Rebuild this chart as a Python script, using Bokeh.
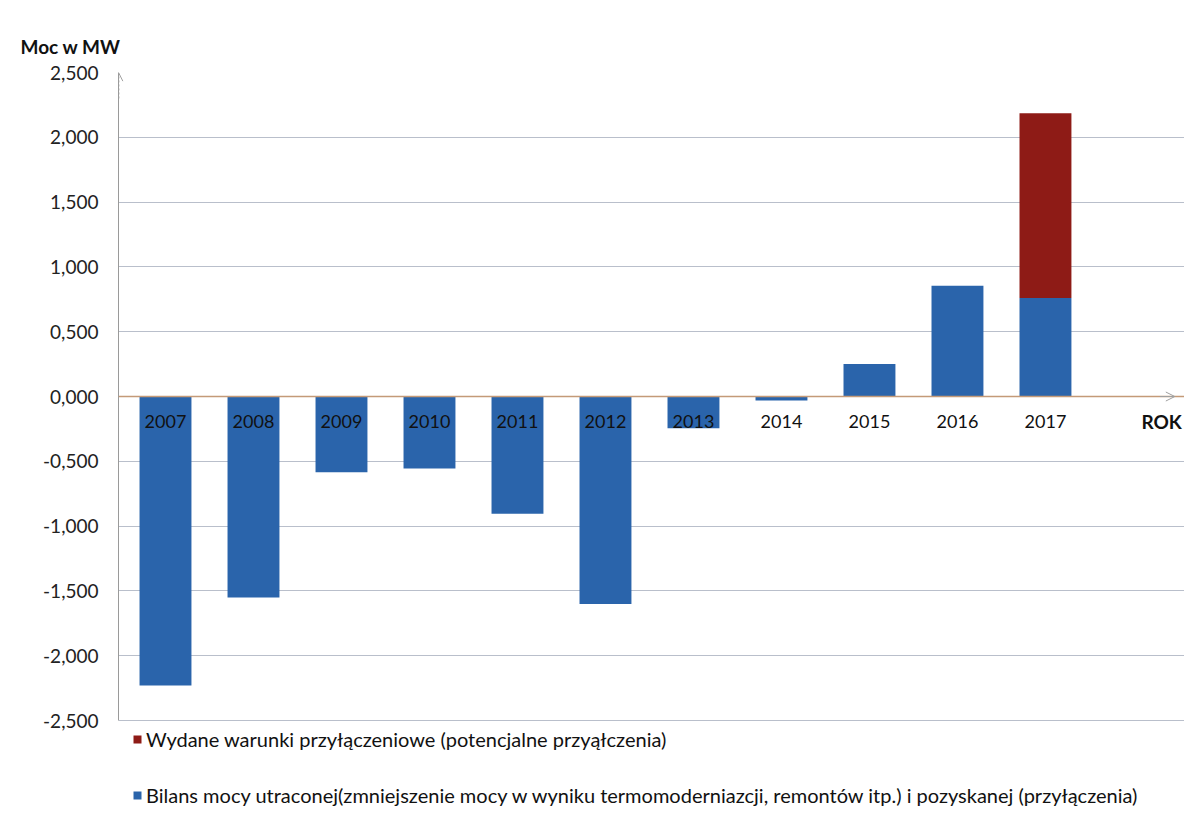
from bokeh.plotting import figure
from bokeh.models import (ColumnDataSource, FixedTicker, Legend, LegendItem,
                          Arrow, OpenHead, Span)
from bokeh.core.properties import value
from bokeh.embed import file_html
from bokeh.resources import INLINE

years = [2007, 2008, 2009, 2010, 2011, 2012, 2013, 2014, 2015, 2016, 2017]
year_labels = ["2007", "2008", "2009", "2010", "2011", "2012", "2013", "2014", "2015", "2016", "2017"]
bilans = [-2230, -1550, -585, -555, -905, -1600, -245, -30, 250, 855, 760]
warunki = [0, 0, 0, 0, 0, 0, 0, 0, 0, 0, 1425]
y_ticks = [-2500, -2000, -1500, -1000, -500, 0, 500, 1000, 1500, 2000, 2500]
y_tick_labels = ["-2,500", "-2,000", "-1,500", "-1,000", "-0,500", "0,000",
                 "0,500", "1,000", "1,500", "2,000", "2,500"]
series_names = ["Wydane warunki przyłączeniowe (potencjalne przyąłczenia)",
                "Bilans mocy utraconej(zmniejszenie mocy w wyniku termomoderniazcji, remontów itp.) i pozyskanej (przyłączenia)"]
y_title = "Moc w MW"
x_title = ["ROK"]

BLUE = "#2a64ab"
RED = "#8e1b16"
FONT = "Lato"
LABEL_Y = -195    # vertical placement of the year labels, in data units
Y_LOW = -3248     # frame extends below -2,500 to hold the legend
X_LOW, X_HIGH = 2006.466, 2018.58

top_red = [b + w if w > 0 else 0 for b, w in zip(bilans, warunki)]
bottom_red = [b if w > 0 else 0 for b, w in zip(bilans, warunki)]
src = ColumnDataSource(dict(x=years, bilans=bilans, top_red=top_red,
                            bottom_red=bottom_red, lab=year_labels,
                            lab_y=[LABEL_Y] * len(years)))

p = figure(width=1184, height=817, output_backend="svg", toolbar_location=None,
           x_range=(X_LOW, X_HIGH), y_range=(Y_LOW, 2500),
           x_axis_location=None,
           min_border_left=118, min_border_right=0, min_border_top=72,
           min_border_bottom=0)
p.outline_line_color = None
p.background_fill_color = "white"

# grid
p.xgrid.visible = False
p.ygrid.ticker = FixedTicker(ticks=y_ticks)
p.ygrid.grid_line_color = "#b9bfcb"
p.ygrid.grid_line_width = 1

r_blue = p.vbar(x="x", top="bilans", bottom=0, width=0.59, source=src,
                fill_color=BLUE, line_color=None)
r_red = p.vbar(x="x", top="top_red", bottom="bottom_red", width=0.59, source=src,
               fill_color=RED, line_color=None)

# zero line (category axis) with arrow
p.add_layout(Span(location=0, dimension="width", line_color="#c49a78", line_width=1.5))
p.add_layout(Arrow(x_start=2018.3, y_start=0, x_end=2018.47, y_end=0,
                   line_color="#a0a0a0", line_width=1,
                   end=OpenHead(size=9, line_color="#a0a0a0", line_width=1)))
p.add_layout(Arrow(x_start=X_LOW + 0.004, y_start=2300, x_end=X_LOW + 0.004, y_end=2495,
                   line_color="#a0a0a0", line_width=1, line_dash="2 2",
                   end=OpenHead(size=8, line_color="#a0a0a0", line_width=1)))

# year labels
p.text(x="x", y="lab_y", text="lab", source=src, text_align="center",
       text_baseline="middle", text_font=value(FONT), text_font_size="18px",
       text_color="#111111")

# axis name "ROK" at the right end, at the level of the year labels
p.text(x=[X_HIGH - 0.03], y=[LABEL_Y], text=x_title, text_align="right",
       text_baseline="middle", text_font=value(FONT), text_font_size="19px",
       text_font_style="bold", text_color="#111111")

# y axis
p.yaxis.ticker = FixedTicker(ticks=y_ticks)
p.yaxis.bounds = (-2500, 2500)
p.yaxis.major_label_overrides = {t: l for t, l in zip(y_ticks, y_tick_labels)}
p.yaxis.major_tick_line_color = None
p.yaxis.minor_tick_line_color = None
p.yaxis.axis_line_color = "#9a9a9a"
p.yaxis.major_label_standoff = 14
p.yaxis.major_label_text_font = FONT
p.yaxis.major_label_text_font_size = "19px"
p.yaxis.major_label_text_color = "#222222"

# title top-left
p.title.text = y_title
p.title.align = "left"
p.title.offset = -98
p.title.text_font = FONT
p.title.text_font_style = "bold"
p.title.text_font_size = "19px"
p.title.text_color = "#111111"
p.title.standoff = 30

legend = Legend(items=[LegendItem(label=series_names[0], renderers=[r_red]),
                       LegendItem(label=series_names[1], renderers=[r_blue])],
                location=(14, 10), orientation="vertical",
                glyph_width=10, glyph_height=10, label_height=20,
                spacing=32, padding=0, margin=0, border_line_color=None,
                background_fill_alpha=0, label_text_font=FONT,
                label_text_font_size="20px", label_text_color="#111111",
                label_standoff=4)
p.add_layout(legend, "center")

open("out.html", "w").write(file_html(p, INLINE))
